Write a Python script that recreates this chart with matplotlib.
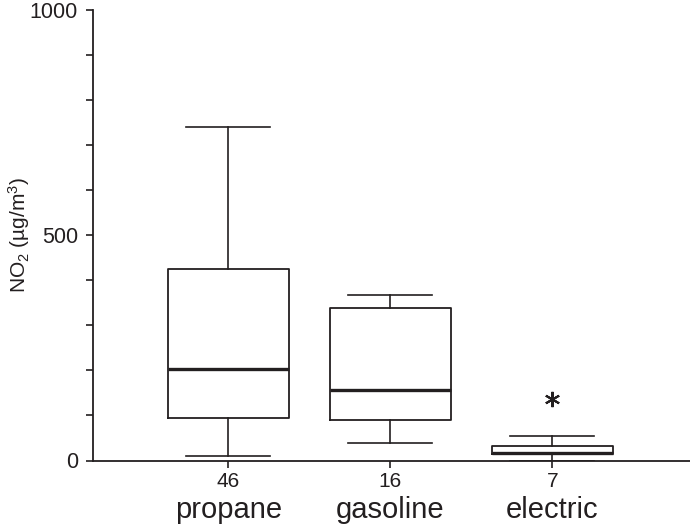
import matplotlib
matplotlib.use('Agg')
import matplotlib.pyplot as plt
import matplotlib.transforms as mtransforms

plt.rcParams['font.family'] = ['Liberation Sans', 'DejaVu Sans']
plt.rcParams['mathtext.default'] = 'regular'

# box statistics (ug/m3)
fuels = ['propane', 'gasoline', 'electric']
counts = ['46', '16', '7']
whislo = [9, 38, 0]
q1 = [94, 90, 14]
med = [203, 156, 17]
q3 = [424, 339, 33]
whishi = [740, 368, 55]
outliers = [[], [], [136]]

ink = '#231f20'

stats = []
for i in range(len(fuels)):
    stats.append(dict(label=counts[i], whislo=whislo[i], q1=q1[i], med=med[i],
                      q3=q3[i], whishi=whishi[i], fliers=outliers[i]))

fig = plt.figure(figsize=(6.9, 5.26), dpi=100)
ax = fig.add_axes([93.3 / 690, 65.5 / 526, 1 - 93.3 / 690, 450.5 / 526])

ax.bxp(stats, positions=[1, 2, 3], widths=0.75, capwidths=0.52, showfliers=True,
       boxprops=dict(color=ink, linewidth=1.3),
       whiskerprops=dict(color=ink, linewidth=1.2),
       capprops=dict(color=ink, linewidth=1.2),
       medianprops=dict(color=ink, linewidth=2.4),
       flierprops=dict(marker=(6, 2, 0), markersize=11, markeredgecolor=ink,
                       markeredgewidth=1.5, markerfacecolor=ink))

ax.set_xlim(0.167, 3.85)
ax.set_ylim(0, 1000)
ax.set_yticks([0, 500, 1000])
ax.set_yticks(range(0, 1001, 100), minor=True)

for s in ['top', 'right']:
    ax.spines[s].set_visible(False)
for s in ['left', 'bottom']:
    ax.spines[s].set_color(ink)
    ax.spines[s].set_linewidth(1.3)

ax.tick_params(axis='both', which='both', direction='out', length=5, width=1.2,
               color=ink, labelcolor=ink)
ax.tick_params(axis='y', labelsize=15.5, pad=6)
ax.tick_params(axis='x', labelsize=15, pad=3)

ax.set_ylabel('NO$_2$ (µg/m$^3$)', fontsize=15, color=ink)
ax.yaxis.set_label_coords(-0.103, 0.5)

trans = mtransforms.blended_transform_factory(ax.transData, ax.transAxes)
for i, name in enumerate(fuels):
    ax.text(i + 1, -0.11, name, transform=trans, ha='center', va='center',
            fontsize=21, color=ink)

fig.savefig('out.png', dpi=100)
